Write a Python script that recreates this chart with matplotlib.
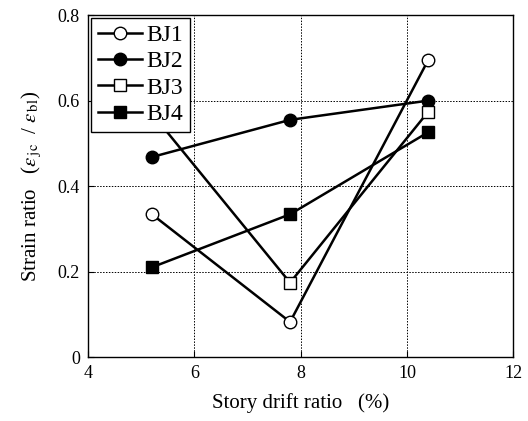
import numpy as np
from matplotlib import pyplot as plt

plt.rcParams['font.family'] = ['Liberation Serif', 'DejaVu Serif']
plt.rcParams['mathtext.fontset'] = 'stix'

# 层间位移角 (%)
drift = [5.2, 7.8, 10.4]
bj1 = [0.334, 0.082, 0.695]
bj2 = [0.468, 0.555, 0.600]
bj3 = [0.570, 0.174, 0.574]
bj4 = [0.210, 0.334, 0.526]

fig = plt.figure(figsize=(5.28, 4.21), dpi=100)
ax = fig.add_axes([0.167, 0.152, 0.805, 0.812])

kw = dict(color='black', lw=1.8, markersize=9, markeredgewidth=1.0)
ax.plot(drift, bj1, marker='o', markerfacecolor='white', label='BJ1', **kw)
ax.plot(drift, bj2, marker='o', markerfacecolor='black', label='BJ2', **kw)
ax.plot(drift, bj3, marker='s', markerfacecolor='white', label='BJ3', **kw)
ax.plot(drift, bj4, marker='s', markerfacecolor='black', label='BJ4', **kw)

ax.set_xlim(4, 12)
ax.set_ylim(0, 0.8)
ax.set_xticks([4, 6, 8, 10, 12])
ax.set_yticks([0, 0.2, 0.4, 0.6, 0.8])
ax.set_yticklabels(['0', '0.2', '0.4', '0.6', '0.8'])
ax.grid(True, linestyle=(0, (1.5, 1.5)), color='black', lw=0.7)
ax.tick_params(direction='in', labelsize=13, length=4, pad=6)
for s in ax.spines.values():
    s.set_linewidth(1.0)

ax.set_xlabel('Story drift ratio   (%)', fontsize=15, labelpad=8)
ax.set_ylabel(r'Strain ratio   ($\varepsilon_{\,\mathrm{jc}}$  / $\varepsilon_{\,\mathrm{bl}}$)',
              fontsize=15, labelpad=10)

leg = ax.legend(loc='upper left', fontsize=17, frameon=True, fancybox=False,
                edgecolor='black', framealpha=1, borderaxespad=0.1,
                handlelength=1.9, handletextpad=0.15, labelspacing=0.2,
                borderpad=0.3)
leg.get_frame().set_linewidth(1.0)

plt.savefig('out.png', dpi=100)
